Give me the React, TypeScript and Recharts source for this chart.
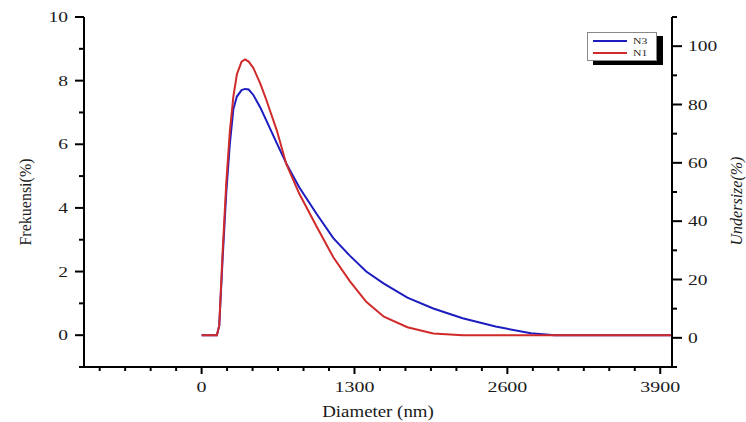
import React from "react";
import { LineChart, Line, XAxis, YAxis } from "recharts";

const diameters = [0, 130, 150, 180, 210, 240, 270, 300, 340, 370, 400, 440, 500, 550, 640, 720, 830, 980, 1120, 1260, 1400, 1550, 1750, 1970, 2220, 2500, 2800, 3000, 3300, 4000];
const n3 = [0, 0, 0.3, 2.5, 4.5, 6.0, 7.1, 7.5, 7.7, 7.74, 7.72, 7.55, 7.15, 6.75, 6.03, 5.4, 4.65, 3.8, 3.05, 2.5, 2.0, 1.62, 1.18, 0.84, 0.53, 0.27, 0.06, 0, 0, 0];
const n1 = [0, 0, 0.3, 2.7, 4.8, 6.4, 7.5, 8.2, 8.6, 8.67, 8.6, 8.4, 7.9, 7.4, 6.43, 5.38, 4.45, 3.4, 2.45, 1.7, 1.05, 0.58, 0.25, 0.05, 0, 0, 0, 0, 0, 0];

const seriesNames = ["N3", "N1"];
const seriesColors = ["#1c1cc0", "#d02a2a"];

const xMajorTicks = [0, 1300, 2600, 3900];
const xMinorPerMajor = 6;
const xDomain = [-1000, 4000];
const leftMajorTicks = [0, 2, 4, 6, 8, 10];
const leftDomain = [-1, 10];
const rightMajorTicks = [0, 20, 40, 60, 80, 100];
const rightDomain = [-10, 110];

const data = diameters.map((d, i) => ({ d, N3: n3[i], N1: n1[i] }));

const step = (xMajorTicks[1] - xMajorTicks[0]) / xMinorPerMajor;
const xTicks: number[] = [];
for (let k = Math.ceil(xDomain[0] / step); k * step <= xDomain[1] + 1e-6; k++) {
  xTicks.push(Math.round(k * step * 1000) / 1000);
}
const isXMajor = (v: number) => xMajorTicks.some((m) => Math.abs(m - v) < 1e-3);

const leftTicks: number[] = [];
for (let v = leftDomain[0]; v <= leftDomain[1]; v += 1) leftTicks.push(v);
const rightTicks: number[] = [];
for (let v = rightDomain[0]; v <= rightDomain[1]; v += 10) rightTicks.push(v);

const FONT = "'Liberation Serif', 'Times New Roman', serif";
const TXT = "#1a1a1a";

const Stretched = ({ x, y, anchor, size, sx, children, dy }: any) => (
  <text
    transform={`translate(${x},${y}) scale(${sx},1)`}
    x={0}
    y={0}
    dy={dy}
    textAnchor={anchor}
    fontFamily={FONT}
    fontSize={size}
    fill={TXT}
  >
    {children}
  </text>
);

const BottomTick = (p: any) => {
  const { x, y, payload } = p;
  const major = isXMajor(payload.value);
  return (
    <g>
      <line x1={x} x2={x} y1={y} y2={y + (major ? 7 : 4)} stroke="#000" strokeWidth={2} />
      {major && (
        <Stretched x={x} y={y + 25} anchor="middle" size={15} sx={1.33}>
          {Math.round(payload.value)}
        </Stretched>
      )}
    </g>
  );
};

const TopTick = (p: any) => {
  const { x, y, payload } = p;
  const major = isXMajor(payload.value);
  return <line x1={x} x2={x} y1={y} y2={y + (major ? 7 : 4)} stroke="#000" strokeWidth={2} />;
};

const LeftTick = (p: any) => {
  const { x, y, payload } = p;
  const major = leftMajorTicks.includes(payload.value);
  return (
    <g>
      <line x1={x} x2={x - (major ? 9 : 5)} y1={y} y2={y} stroke="#000" strokeWidth={2} />
      {major && (
        <Stretched x={x - 16} y={y} dy="0.34em" anchor="end" size={15} sx={1.3}>
          {payload.value}
        </Stretched>
      )}
    </g>
  );
};

const RightTick = (p: any) => {
  const { x, y, payload } = p;
  const major = rightMajorTicks.includes(payload.value);
  return (
    <g>
      <line x1={x} x2={x + (major ? 10 : 5)} y1={y} y2={y} stroke="#000" strokeWidth={2} />
      {major && (
        <Stretched x={x + 16} y={y} dy="0.34em" anchor="start" size={15} sx={1.3}>
          {payload.value}
        </Stretched>
      )}
    </g>
  );
};

const LeftLabel = (p: any) => {
  const vb = p.viewBox;
  const x = vb.x + 31;
  const y = vb.y + vb.height / 2 + 10;
  return (
    <text x={x} y={y} transform={`rotate(-90 ${x} ${y})`} textAnchor="middle" fontFamily={FONT} fontSize={16} fill={TXT}>
      Frekuensi(%)
    </text>
  );
};

const RightLabel = (p: any) => {
  const vb = p.viewBox;
  const x = vb.x + 70;
  const y = vb.y + vb.height / 2 + 9;
  return (
    <text x={x} y={y} transform={`rotate(-90 ${x} ${y})`} textAnchor="middle" fontFamily={FONT} fontStyle="italic" fontSize={16} fill={TXT}>
      Undersize(%)
    </text>
  );
};

const BottomLabel = (p: any) => {
  const vb = p.viewBox;
  const x = vb.x + vb.width / 2;
  const y = vb.y + 50;
  return (
    <Stretched x={x} y={y} anchor="middle" size={16} sx={1.18}>
      Diameter (nm)
    </Stretched>
  );
};

export default function App() {
  return (
    <div style={{ position: "absolute", left: 0, top: 0, width: 746, height: 422, overflow: "hidden" }}>
      <LineChart width={746} height={422} data={data} margin={{ top: 17, right: 0, bottom: 0, left: 0 }}>
        <XAxis
          dataKey="d"
          type="number"
          domain={xDomain}
          allowDataOverflow
          ticks={xTicks}
          interval={0}
          tickSize={0}
          tickMargin={0}
          tickLine={false}
          tick={BottomTick}
          height={55}
          axisLine={{ stroke: "#000", strokeWidth: 2 }}
          label={BottomLabel}
        />
        <XAxis
          xAxisId="top"
          orientation="top"
          dataKey="d"
          type="number"
          domain={xDomain}
          allowDataOverflow
          ticks={xTicks}
          interval={0}
          tickSize={0}
          tickMargin={0}
          tickLine={false}
          tick={TopTick}
          height={0}
          axisLine={{ stroke: "#000", strokeWidth: 2 }}
        />
        <YAxis
          yAxisId="left"
          type="number"
          domain={leftDomain}
          allowDataOverflow
          ticks={leftTicks}
          interval={0}
          tickSize={0}
          tickMargin={0}
          tickLine={false}
          tick={LeftTick}
          width={84}
          axisLine={{ stroke: "#000", strokeWidth: 2 }}
          label={LeftLabel}
        />
        <YAxis
          yAxisId="right"
          orientation="right"
          type="number"
          domain={rightDomain}
          allowDataOverflow
          ticks={rightTicks}
          interval={0}
          tickSize={0}
          tickMargin={0}
          tickLine={false}
          tick={RightTick}
          width={74}
          axisLine={{ stroke: "#000", strokeWidth: 2 }}
          label={RightLabel}
        />
        {seriesNames.map((name, i) => (
          <Line
            key={name}
            yAxisId="left"
            type="linear"
            dataKey={name}
            stroke={seriesColors[i]}
            strokeWidth={2}
            dot={false}
            isAnimationActive={false}
          />
        ))}
      </LineChart>
      <div
        style={{
          position: "absolute",
          left: 587,
          top: 32,
          width: 68,
          height: 27,
          background: "#fff",
          border: "1px solid #888",
          boxShadow: "6px 4px 0 #000",
        }}
      >
        {seriesNames.map((name, i) => (
          <div key={name} style={{ position: "absolute", left: 5, top: 2 + i * 12, height: 12, display: "flex", alignItems: "center" }}>
            <div style={{ width: 34, height: 2, background: seriesColors[i] }} />
            <span style={{ marginLeft: 6, fontFamily: FONT, fontSize: 9, color: "#222", lineHeight: "12px", display: "inline-block", transform: "scaleX(1.3)", transformOrigin: "left center" }}>{name}</span>
          </div>
        ))}
      </div>
    </div>
  );
}
